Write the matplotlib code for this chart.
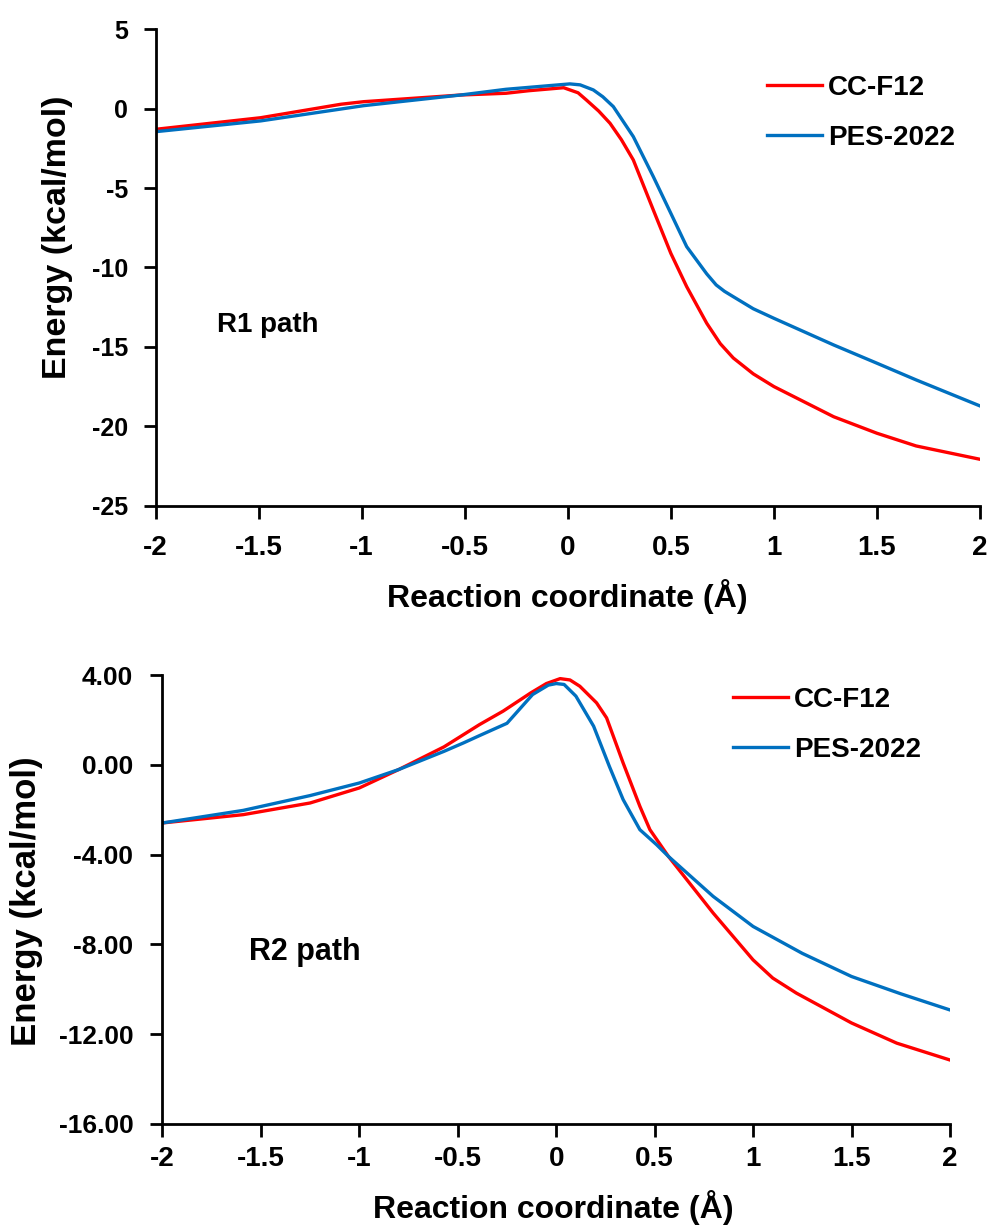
import matplotlib
matplotlib.use('Agg')
import matplotlib.pyplot as plt
from matplotlib.ticker import FormatStrFormatter

plt.rcParams['font.family'] = ['Liberation Sans', 'DejaVu Sans']
plt.rcParams['font.weight'] = 'bold'
plt.rcParams['axes.unicode_minus'] = False

# R1 path
r1_cc_x = [-2.0, -1.49, -1.1, -0.99, -0.52, -0.30, -0.19, -0.02, 0.05, 0.09, 0.15, 0.205, 0.26,
           0.318, 0.415, 0.5, 0.577, 0.674, 0.74, 0.803, 0.9, 1.0, 1.29, 1.5, 1.69, 2.0]
r1_cc_y = [-1.30, -0.57, 0.28, 0.44, 0.86, 0.97, 1.13, 1.32, 1.0, 0.55, -0.15, -0.92, -1.95,
           -3.23, -6.38, -9.11, -11.21, -13.51, -14.8, -15.7, -16.7, -17.5, -19.4, -20.44, -21.24, -22.08]
r1_pes_x = [-2.0, -1.49, -0.99, -0.52, -0.30, 0.01, 0.06, 0.124, 0.17, 0.221, 0.318, 0.415,
            0.5, 0.577, 0.674, 0.72, 0.76, 0.803, 0.9, 1.0, 1.29, 1.5, 1.69, 2.0]
r1_pes_y = [-1.45, -0.77, 0.19, 0.86, 1.22, 1.56, 1.5, 1.18, 0.75, 0.13, -1.76, -4.28,
            -6.59, -8.69, -10.4, -11.1, -11.5, -11.84, -12.6, -13.2, -14.88, -16.03, -17.08, -18.72]

# R2 path
r2_cc_x = [-2.0, -1.59, -1.25, -1.0, -0.8, -0.57, -0.47, -0.39, -0.27, -0.13, -0.05, 0.02, 0.07,
           0.12, 0.205, 0.256, 0.34, 0.425, 0.476, 0.57, 0.797, 1.0, 1.1, 1.22, 1.5, 1.73, 2.0]
r2_cc_y = [-2.59, -2.22, -1.70, -1.03, -0.21, 0.80, 1.35, 1.79, 2.39, 3.2, 3.62, 3.84, 3.78,
           3.5, 2.76, 2.09, 0.08, -1.85, -2.89, -4.08, -6.6, -8.69, -9.5, -10.17, -11.5, -12.4, -13.15]
r2_pes_x = [-2.0, -1.59, -1.25, -1.0, -0.8, -0.57, -0.47, -0.39, -0.25, -0.12, -0.04, 0.0, 0.04,
            0.10, 0.19, 0.27, 0.34, 0.425, 0.51, 0.57, 0.797, 1.0, 1.25, 1.5, 1.75, 2.0]
r2_pes_y = [-2.59, -2.03, -1.37, -0.81, -0.21, 0.60, 0.98, 1.3, 1.85, 3.13, 3.55, 3.62, 3.58,
            3.06, 1.72, -0.07, -1.55, -2.89, -3.56, -4.08, -5.86, -7.2, -8.4, -9.43, -10.2, -10.92]

x_ticks = [-2, -1.5, -1, -0.5, 0, 0.5, 1, 1.5, 2]
x_tick_labels = ['-2', '-1.5', '-1', '-0.5', '0', '0.5', '1', '1.5', '2']

red = '#FF0000'
blue = '#0070C0'

fig = plt.figure(figsize=(9.92, 12.3), dpi=100)
ax1 = fig.add_axes([0.1568, 0.5889, 0.8311, 0.3873])
ax2 = fig.add_axes([0.1638, 0.0862, 0.7938, 0.3650])


def style(ax, xpad, ypad, xsize, ysize):
    for s in ['top', 'right']:
        ax.spines[s].set_visible(False)
    for s in ['left', 'bottom']:
        ax.spines[s].set_linewidth(2)
    ax.tick_params(direction='out', length=9, width=2)
    ax.tick_params(axis='x', pad=xpad, labelsize=xsize)
    ax.tick_params(axis='y', pad=ypad, labelsize=ysize)
    ax.set_xlim(-2, 2)
    ax.set_xticks(x_ticks)
    ax.set_xticklabels(x_tick_labels)


# Panel R1
ax1.plot(r1_cc_x, r1_cc_y, color=red, lw=2.4, label='CC-F12')
ax1.plot(r1_pes_x, r1_pes_y, color=blue, lw=2.4, label='PES-2022')
style(ax1, 12, 11, 20, 18)
ax1.set_ylim(-25, 5)
ax1.set_yticks([5, 0, -5, -10, -15, -20, -25])
ax1.set_xlabel('Reaction coordinate (Å)', fontsize=23, fontweight='bold')
ax1.set_ylabel('Energy (kcal/mol)', fontsize=24.5, fontweight='bold')
ax1.xaxis.set_label_coords(0.5, -0.155)
ax1.yaxis.set_label_coords(-0.1, 0.564)
ax1.text(-1.7, -13.6, 'R1 path', fontsize=20, fontweight='bold', va='center')
ax1.legend(loc='upper left', bbox_to_anchor=(767 / 992, 1 - 75 / 1230),
           bbox_transform=fig.transFigure, frameon=False, borderpad=0, borderaxespad=0,
           handlelength=1.98, handletextpad=0.22, labelspacing=0.85,
           prop={'weight': 'bold', 'size': 20})

# Panel R2
ax2.plot(r2_cc_x, r2_cc_y, color=red, lw=2.4, label='CC-F12')
ax2.plot(r2_pes_x, r2_pes_y, color=blue, lw=2.4, label='PES-2022')
style(ax2, 7, 12, 20, 19)
ax2.set_ylim(-16, 4)
ax2.set_yticks([4, 0, -4, -8, -12, -16])
ax2.yaxis.set_major_formatter(FormatStrFormatter('%.2f'))
ax2.set_xlabel('Reaction coordinate (Å)', fontsize=23, fontweight='bold')
ax2.set_ylabel('Energy (kcal/mol)', fontsize=25, fontweight='bold')
ax2.xaxis.set_label_coords(0.496, -0.147)
ax2.yaxis.set_label_coords(-0.152, 0.497)
ax2.text(-1.56, -8.33, 'R2 path', fontsize=22, fontweight='bold', va='center')
ax2.legend(loc='upper left', bbox_to_anchor=(733 / 992, 1 - 687 / 1230),
           bbox_transform=fig.transFigure, frameon=False, borderpad=0, borderaxespad=0,
           handlelength=1.98, handletextpad=0.22, labelspacing=0.85,
           prop={'weight': 'bold', 'size': 20})

fig.savefig('out.png', dpi=100)
